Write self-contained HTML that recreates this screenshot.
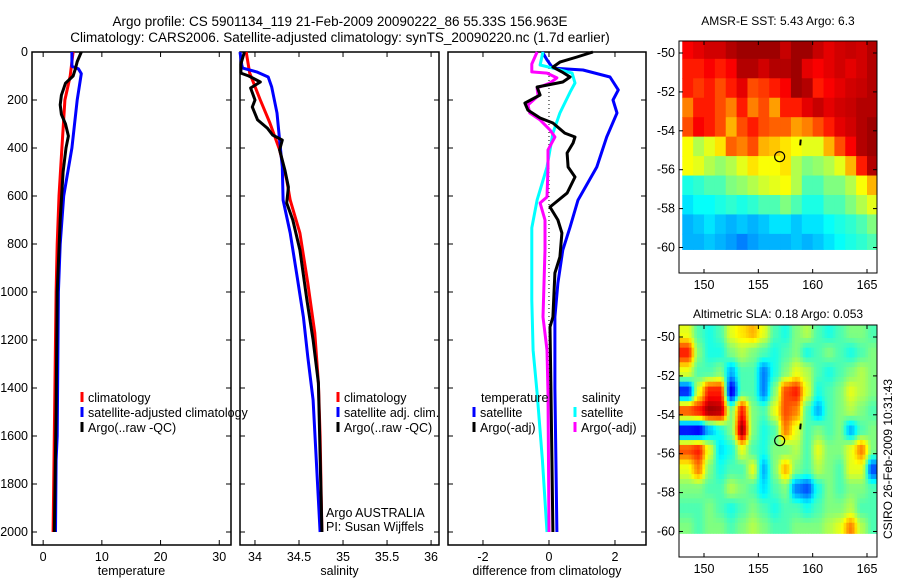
<!DOCTYPE html>
<html><head><meta charset="utf-8"><style>
body{margin:0;background:#fff;}
svg{display:block;font-family:"Liberation Sans",sans-serif;}
text{font-size:12.5px;fill:#000;}
</style></head><body>
<svg id="fig" width="900" height="580" viewBox="0 0 900 580" xmlns="http://www.w3.org/2000/svg">
<text x="340" y="26" text-anchor="middle" style="font-size:13.5px">Argo profile: CS 5901134_119 21-Feb-2009 20090222_86 55.33S 156.963E</text>
<text x="340" y="42" text-anchor="middle" style="font-size:13.5px">Climatology: CARS2006. Satellite-adjusted climatology: synTS_20090220.nc (1.7d earlier)</text>
<text x="778" y="25" text-anchor="middle" style="font-size:12px">AMSR-E SST: 5.43 Argo: 6.3</text>
<text x="778" y="318" text-anchor="middle" style="font-size:12px">Altimetric SLA: 0.18 Argo: 0.053</text>
<text transform="translate(892,459) rotate(-90)" text-anchor="middle" style="font-size:12px">CSIRO 26-Feb-2009 10:31:43</text>
<text x="326" y="517">Argo AUSTRALIA</text>
<text x="326" y="531">PI: Susan Wijffels</text>
</svg>
<script>
// depth axis shared
const depthTicks=[0,200,400,600,800,1000,1200,1400,1600,1800,2000];
// temperature panel data
const tempTicks=[0,10,20,30];
const climTDepth=[0,100,200,400,600,800,1000,1600,2000];
const climT=[5.1,4.6,3.7,3.2,2.7,2.4,2.2,1.9,1.7];
const satTDepth=[0,60,70,90,200,400,600,800,1000,1600,1700,2000];
const satT=[4.9,4.9,6.0,6.5,5.8,4.9,3.5,2.9,2.6,2.4,2.2,2.1];
const argoTDepth=[0,40,70,100,130,180,220,260,300,350,400,500,700,1000,1500,2000];
const argoT=[6.5,5.8,5.5,5.1,3.8,3.1,2.9,3.1,3.8,4.3,3.9,3.4,2.9,2.4,2.2,1.9];
// salinity panel data
const salTicks=[34,34.5,35,35.5,36];
const climSDepth=[0,88,200,296,408,533,617,754,963,1171,1379,1600,2000];
const climS=[33.9,33.94,34.06,34.17,34.28,34.36,34.40,34.51,34.6,34.68,34.72,34.74,34.76];
const satSDepth=[0,54,67,83,104,146,254,367,479,617,754,938,1104,1271,1450,2000];
const satS=[33.83,33.85,33.86,34.02,34.15,34.19,34.25,34.28,34.31,34.32,34.40,34.48,34.55,34.6,34.66,34.74];
const argoSDepth=[0,50,88,100,125,150,200,229,283,317,346,367,408,492,563,629,700,825,1033,1200,1379,2000];
const argoS=[33.88,33.84,33.84,33.93,34.06,33.95,34.0,33.97,34.03,34.14,34.2,34.31,34.28,34.34,34.38,34.36,34.43,34.51,34.59,34.66,34.72,34.76];
// difference panel data
const diffTicks=[-2,0,2];
const dTsatDepth=[0,33,67,75,104,158,200,254,354,479,617,729,825,963,1104,1400,2000];
const dTsat=[-0.2,-0.06,0.12,1.03,1.85,2.1,1.94,2.06,1.75,1.45,0.88,0.64,0.42,0.27,0.18,0.18,0.24];
const dTargoDepth=[0,21,42,63,83,104,125,138,146,179,213,242,275,296,338,354,379,421,479,521,588,646,700,754,854,921,1104,1146,1421,2000];
const dTargo=[1.33,0.85,0.33,0.12,0.39,0.64,0.42,-0.06,-0.36,-0.27,-0.73,-0.64,-0.27,0.12,0.48,0.79,0.73,0.55,0.58,0.79,0.55,0.03,0.27,0.39,0.33,0.18,0.12,0.03,0.06,0.12];
const dSsatDepth=[0,54,67,88,129,167,254,338,479,617,733,1033,1242,1421,1700,2000];
const dSsat=[-0.18,-0.27,0.12,0.7,0.79,0.64,0.33,0.12,-0.06,-0.36,-0.52,-0.52,-0.48,-0.36,-0.2,-0.06];
const dSargoDepth=[0,50,83,88,108,129,150,183,221,254,283,325,354,408,479,604,629,700,825,1104,1242,1421,2000];
const dSargo=[-0.36,-0.52,-0.52,-0.06,0.24,0.03,-0.36,-0.33,-0.64,-0.58,-0.27,0.03,0.18,-0.03,-0.03,-0.06,-0.27,-0.12,-0.12,-0.18,-0.06,-0.03,0.0];
// maps: 11 lat rows x 18 lon cols, normalised colour value 0..1 (jet)
const mapLons=[148,149,150,151,152,153,154,155,156,157,158,159,160,161,162,163,164,165];
const mapLatTops=[-49.3,-50.3,-51.3,-52.3,-53.3,-54.3,-55.3,-56.3,-57.3,-58.3,-59.3];
const sstGrid=[
[.88,.9,.92,.92,.95,.97,.97,.97,.97,.93,.97,.97,.93,.9,.92,.93,.92,.95],
[.85,.85,.88,.85,.88,.95,.95,.92,.95,.95,.97,.9,.88,.9,.92,.9,.92,.95],
[.85,.82,.85,.8,.85,.9,.8,.82,.85,.88,.97,.95,.85,.88,.9,.92,.93,.95],
[.75,.85,.85,.8,.75,.85,.75,.8,.72,.85,.85,.9,.93,.9,.92,.93,.95,.95],
[.8,.88,.85,.8,.7,.8,.85,.8,.78,.78,.72,.75,.8,.85,.9,.92,.95,.97],
[.62,.55,.6,.65,.78,.75,.8,.7,.68,.65,.62,.6,.6,.7,.8,.88,.95,.97],
[.62,.6,.55,.52,.55,.6,.65,.62,.62,.65,.55,.5,.52,.55,.6,.7,.85,.95],
[.4,.42,.45,.45,.5,.52,.55,.58,.6,.62,.55,.45,.45,.5,.5,.55,.62,.7],
[.35,.38,.38,.4,.42,.4,.42,.45,.45,.5,.45,.4,.4,.45,.45,.5,.55,.6],
[.3,.32,.35,.32,.3,.32,.3,.32,.35,.35,.32,.35,.35,.38,.4,.42,.45,.5],
[.3,.3,.32,.3,.28,.25,.28,.3,.3,.3,.32,.3,.32,.35,.38,.4,.42,.45]];
const slaGrid=[
[.6,.45,.4,.45,.6,.65,.7,.6,.45,.4,.5,.55,.45,.4,.45,.5,.5,.45],
[.85,.5,.4,.4,.5,.55,.5,.45,.4,.45,.5,.4,.45,.5,.45,.4,.45,.5],
[.6,.45,.45,.5,.3,.45,.45,.25,.4,.5,.6,.55,.45,.4,.45,.5,.55,.5],
[.15,.6,.85,.85,.1,.45,.45,.25,.5,.8,.85,.6,.4,.45,.5,.6,.55,.5],
[.8,.85,.97,.95,.5,.85,.5,.45,.6,.8,.75,.45,.3,.45,.5,.55,.5,.45],
[.12,.1,.3,.4,.5,.97,.5,.4,.45,.75,.6,.45,.5,.45,.5,.3,.45,.5],
[.8,.85,.6,.35,.4,.6,.45,.4,.5,.5,.55,.45,.6,.5,.5,.6,.75,.5],
[.6,.75,.5,.4,.45,.45,.6,.3,.5,.7,.5,.45,.55,.5,.45,.6,.6,.2],
[.5,.5,.45,.45,.55,.5,.45,.35,.45,.5,.25,.2,.4,.5,.45,.5,.5,.45],
[.45,.45,.5,.45,.4,.45,.5,.45,.4,.45,.45,.4,.45,.5,.5,.55,.45,.45],
[.5,.45,.5,.5,.45,.5,.55,.5,.45,.45,.5,.5,.5,.55,.6,.75,.55,.45]];
const lonTicks=[150,155,160,165];
const latTicks=[-50,-52,-54,-56,-58,-60];
const argoPos=[156.963,-55.33];

const NS='http://www.w3.org/2000/svg';
const svg=document.getElementById('fig');
function mk(tag,attrs,parent){const e=document.createElementNS(NS,tag);for(const k in attrs)e.setAttribute(k,attrs[k]);(parent||svg).appendChild(e);return e;}
function jet(v){v=Math.max(0,Math.min(1,v));
 const r=Math.max(0,Math.min(1,Math.min(4*v-1.5,-4*v+4.5)));
 const g=Math.max(0,Math.min(1,Math.min(4*v-0.5,-4*v+3.5)));
 const b=Math.max(0,Math.min(1,Math.min(4*v+0.5,-4*v+2.5)));
 return `rgb(${Math.round(r*255)},${Math.round(g*255)},${Math.round(b*255)})`;}

// profile panels
const yTop=52, yPer=0.24, yBot=545;
function dy(d){return yTop+d*yPer;}
function panel(name,x0,x1,xmin,xmax,ticks,label,showDepth){
 const sx=v=>x0+(v-xmin)/(xmax-xmin)*(x1-x0);
 const g=mk('g',{});
 
 
 const box=mk('rect',{x:x0,y:yTop,width:x1-x0,height:yBot-yTop,fill:'none',stroke:'#000','stroke-width':1.5},g);
 
 
 ticks.forEach(t=>{const x=sx(t);
  mk('line',{x1:x,x2:x,y1:yBot,y2:yBot-5,stroke:'#000'},g);
  mk('line',{x1:x,x2:x,y1:yTop,y2:yTop+5,stroke:'#000'},g);
  const tx=mk('text',{x:x,y:yBot+16,'text-anchor':'middle'},g);tx.textContent=String(t);
  
  
 });
 depthTicks.forEach(d=>{const y=dy(d);
  mk('line',{x1:x0,x2:x0+5,y1:y,y2:y,stroke:'#000'},g);
  mk('line',{x1:x1,x2:x1-5,y1:y,y2:y,stroke:'#000'},g);
  if(showDepth){const tx=mk('text',{x:x0-4,y:y+4,'text-anchor':'end'},g);tx.textContent=String(d);
   
   }
 });
 const xl=mk('text',{x:(x0+x1)/2,y:575,'text-anchor':'middle'},g);xl.textContent=label;
 
 
 return sx;
}
function series(sx,depths,vals,color,name,w){
 const pts=depths.map((d,i)=>sx(vals[i]).toFixed(1)+','+dy(d).toFixed(1)).join(' ');
 const p=mk('polyline',{points:pts,fill:'none',stroke:color,'stroke-width':w||3,'stroke-linejoin':'round'});
 
 
}
function legend(x,y,color,label){
 mk('line',{x1:x,x2:x,y1:y-10,y2:y,stroke:color,'stroke-width':3});
 const t=mk('text',{x:x+6,y:y});t.textContent=label;
 
 
}
const sxT=panel('temperature-panel',32,231,-1.9,32,tempTicks,'temperature',true);
series(sxT,climTDepth,climT,'#f00','temp-climatology-line');
series(sxT,satTDepth,satT,'#00f','temp-satellite-line');
series(sxT,argoTDepth,argoT,'#000','temp-argo-line');
legend(82,402,'#f00','climatology');
legend(82,417,'#00f','satellite-adjusted climatology');
legend(82,432,'#000','Argo(..raw -QC)');

const sxS=panel('salinity-panel',240,439,33.83,36.09,salTicks,'salinity',false);
series(sxS,climSDepth,climS,'#f00','sal-climatology-line');
series(sxS,satSDepth,satS,'#00f','sal-satellite-line');
series(sxS,argoSDepth,argoS,'#000','sal-argo-line');
legend(338,402,'#f00','climatology');
legend(338,417,'#00f','satellite adj. clim.');
legend(338,432,'#000','Argo(..raw -QC)');

const sxD=panel('difference-panel',448,646,-3.06,2.94,diffTicks,'difference from climatology',false);
const zl=mk('line',{x1:sxD(0),x2:sxD(0),y1:yTop,y2:dy(2000),stroke:'#000','stroke-dasharray':'1,3'});


series(sxD,dTsatDepth,dTsat,'#00f','dtemp-satellite-line');
series(sxD,dSsatDepth,dSsat,'#0ff','dsal-satellite-line');
series(sxD,dSargoDepth,dSargo,'#f0f','dsal-argo-line');
series(sxD,dTargoDepth,dTargo,'#000','dtemp-argo-line');
const lt=mk('text',{x:481,y:402});lt.textContent='temperature';


const ls=mk('text',{x:582,y:402});ls.textContent='salinity';


legend(474,417,'#00f','satellite');
legend(474,432,'#000','Argo(-adj)');
legend(575,417,'#0ff','satellite');
legend(575,432,'#f0f','Argo(-adj)');

// maps
function map(name,top,bottom,lat50y,grid,smooth){
 const x0=679,x1=877,lonA=704,lonPer=(867-704)/15,latPer=19.45;
 const sx=l=>lonA+(l-150)*lonPer, sy=la=>lat50y+(-50-la)*latPer;
 const g=mk('g',{});
 
 
 const nr=grid.length,nc=grid[0].length;
 if(!smooth){
  grid.forEach((row,r)=>row.forEach((v,c)=>{
   const la0=mapLatTops[r], la1=r+1<nr?mapLatTops[r+1]:-60.1;
   const xa=Math.max(x0,sx(mapLons[c])), xb=Math.min(x1,sx(mapLons[c]+1));
   const ya=Math.max(top,sy(la0));
   const cell=mk('rect',{x:xa,y:ya,width:xb-xa+0.5,height:sy(la1)-ya+0.5,fill:jet(v)},g);
   
   
  }));
 } else {
  // smoothstep interpolation between cell centres, drawn as 0.25-degree sub-cells
  const ss=t=>t*t*(3-2*t);
  const val=(fr,fc)=>{fr=Math.max(0,Math.min(nr-1,fr));fc=Math.max(0,Math.min(nc-1,fc));
   const r0=Math.floor(fr),c0=Math.floor(fc),r1=Math.min(nr-1,r0+1),c1=Math.min(nc-1,c0+1),tr=ss(fr-r0),tc=ss(fc-c0);
   return (grid[r0][c0]*(1-tc)+grid[r0][c1]*tc)*(1-tr)+(grid[r1][c0]*(1-tc)+grid[r1][c1]*tc)*tr;};
  const step=0.25;
  for(let i=0;;i++){
   const la=mapLatTops[0]-i*step; if(la<=-60.1+1e-6)break;
   const la1=Math.max(-60.1,la-step);
   for(let j=0;;j++){
    const lo=147.6+j*step; if(lo>=166)break;
    const fr=(mapLatTops[0]-(la-step/2))-0.5, fc=(lo+step/2-mapLons[0])-0.5;
    const xa=Math.max(x0,sx(lo)), xb=Math.min(x1,sx(lo+step)); if(xb<=xa)continue;
    const ya=Math.max(top,sy(la));
    const cell=mk('rect',{x:xa,y:ya,width:xb-xa+0.4,height:sy(la1)-ya+0.4,fill:jet(val(fr,fc))},g);
    
    
   }
  }
 }
 const fr=mk('rect',{x:x0,y:top,width:x1-x0,height:bottom-top,fill:'none',stroke:'#000'},g);
 
 
 lonTicks.forEach(l=>{const x=sx(l);
  mk('line',{x1:x,x2:x,y1:bottom,y2:bottom-4,stroke:'#000'},g);
  mk('line',{x1:x,x2:x,y1:top,y2:top+4,stroke:'#000'},g);
  const t=mk('text',{x:x,y:bottom+16,'text-anchor':'middle'},g);t.textContent=String(l);
  
  });
 latTicks.forEach(la=>{const y=sy(la);
  mk('line',{x1:x0,x2:x0+4,y1:y,y2:y,stroke:'#000'},g);
  mk('line',{x1:x1,x2:x1-4,y1:y,y2:y,stroke:'#000'},g);
  const t=mk('text',{x:x0-4,y:y+4,'text-anchor':'end'},g);t.textContent=String(la);
  
  });
 const c=mk('circle',{cx:sx(argoPos[0]),cy:sy(argoPos[1]),r:5,fill:'none',stroke:'#000','stroke-width':1.2},g);
 
 
 mk('line',{x1:sx(158.9),x2:sx(158.85),y1:sy(-54.45),y2:sy(-54.75),stroke:'#000','stroke-width':2},g);
}
map('sst-map',41,273,53,sstGrid,false);
map('sla-map',325,557,337,slaGrid,true);
</script>
</body></html>
